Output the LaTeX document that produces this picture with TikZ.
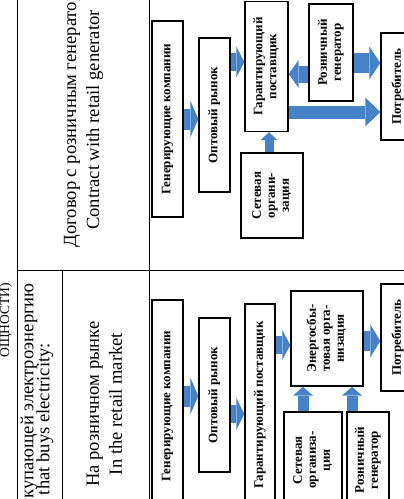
\documentclass[tikz,border=0pt]{standalone}
\usepackage{fontspec}
\setmainfont{Liberation Serif}
\usepackage{graphicx}
\usetikzlibrary{arrows.meta}
\definecolor{flowBlue}{RGB}{70,130,200}
\newcommand{\vtext}[1]{\rotatebox{90}{\begin{tabular}{@{}c@{}}#1\end{tabular}}}

\begin{document}
\begin{tikzpicture}[
  x=1pt, y=-1pt,
  rule/.style={line width=1pt},
  cell/.style={rotate=90, align=center, inner sep=0pt, font=\fontsize{18.6}{23}\selectfont},
  box/.style={draw, line width=1.4pt, fill=white, inner sep=0pt,
              font=\bfseries\fontsize{13}{14}\selectfont},
  blk/.style args={#1/#2/#3}{draw=flowBlue, line width=#1,
              -{Triangle[width=#2, length=#3, line width=0pt]}}
]
\useasboundingbox (0,0) rectangle (404,499);
\clip (0,0) rectangle (404,499);

\draw[rule] (17,0) -- (17,499);
\draw[rule] (149,0) -- (149,499);
\draw[rule] (17,270) -- (404,270);
\draw[rule] (62,270) -- (62,499);

\node[cell, anchor=east, font=\fontsize{13.5}{16}\selectfont] (head) at (6,283) {ОЩНОСТИ)};
\node[cell, anchor=east] (buyer) at (29,283) {купающей электроэнергию};
\node[cell, anchor=east] (buyeren) at (45,343) {that buys electricity:};
\node[cell] (contract) at (83.5,120) {Договор с розничным генератор\\Contract with retail generator};
\node[cell] (retail) at (104.5,404) {На розничном рынке\\In the retail market};

\node[box, minimum width=31pt, minimum height=196pt] (gen1) at (167.5,119) {\vtext{Генерирующие компании}};
\node[box, minimum width=31pt, minimum height=154pt] (opt1) at (214.5,115) {\vtext{Оптовый рынок}};
\node[box, minimum width=43pt, minimum height=130pt] (gar1) at (266.5,66.5) {\vtext{Гарантирующий\\поставщик}};
\node[box, minimum width=62pt, minimum height=85pt] (set1) at (272,195.5) {\vtext{Сетевая\\органи-\\зация}};
\node[box, minimum width=44pt, minimum height=97pt] (ros1) at (331,52.5) {\vtext{Розничный\\генератор}};
\node[box, minimum width=34pt, minimum height=107pt] (pot1) at (398,86.5) {\vtext{Потребитель}};

\node[box, minimum width=31pt, minimum height=212pt] (gen2) at (167.5,406) {\vtext{Генерирующие компании}};
\node[box, minimum width=31pt, minimum height=154pt] (opt2) at (214.5,395) {\vtext{Оптовый рынок}};
\node[box, minimum width=30pt, minimum height=202pt] (gar2) at (260,405) {\vtext{Гарантирующий поставщик}};
\node[box, minimum width=72pt, minimum height=95pt] (ene2) at (327,338.5) {\vtext{Энергосбы-\\товая орга-\\низация}};
\node[box, minimum width=58pt, minimum height=96pt] (set2) at (313,460) {\vtext{Сетевая\\организа-\\ция}};
\node[box, minimum width=42pt, minimum height=96pt] (ros2) at (368,460) {\vtext{Розничный\\генератор}};
\node[box, minimum width=34pt, minimum height=107pt] (pot2) at (398,337.5) {\vtext{Потребитель}};

\draw[blk=21pt/37pt/8pt] (gen1.east) -- (gen1.east -| opt1.west);
\draw[blk=18pt/31pt/8pt] (opt1.east |- 0,62) -- (gar1.west |- 0,62);
\draw[blk=9pt/17pt/8pt] (269,0 |- set1.north) -- (269,0 |- gar1.south);
\draw[blk=17pt/28pt/10pt] (ros1.west |- 0,74) -- (gar1.east |- 0,74);
\draw[blk=20pt/33pt/11pt] (ros1.east |- 0,63) -- (pot1.west |- 0,63);
\draw[blk=13pt/29pt/15pt] (gar1.east |- 0,112) -- (pot1.west |- 0,112);

\draw[blk=21pt/37pt/8pt] (gen2.east |- 0,396) -- (opt2.west |- 0,396);
\draw[blk=18pt/32pt/8pt] (opt2.east |- 0,414) -- (gar2.west |- 0,414);
\draw[blk=18pt/30pt/8pt] (gar2.east |- 0,345) -- (ene2.west |- 0,345);
\draw[blk=20pt/33pt/10pt] (ene2.east |- 0,341) -- (pot2.west |- 0,341);
\draw[blk=11pt/20pt/9pt] (303,0 |- set2.north) -- (303,0 |- ene2.south);
\draw[blk=11pt/20pt/9pt] (352,0 |- ros2.north) -- (352,0 |- ene2.south);
\end{tikzpicture}
\end{document}
